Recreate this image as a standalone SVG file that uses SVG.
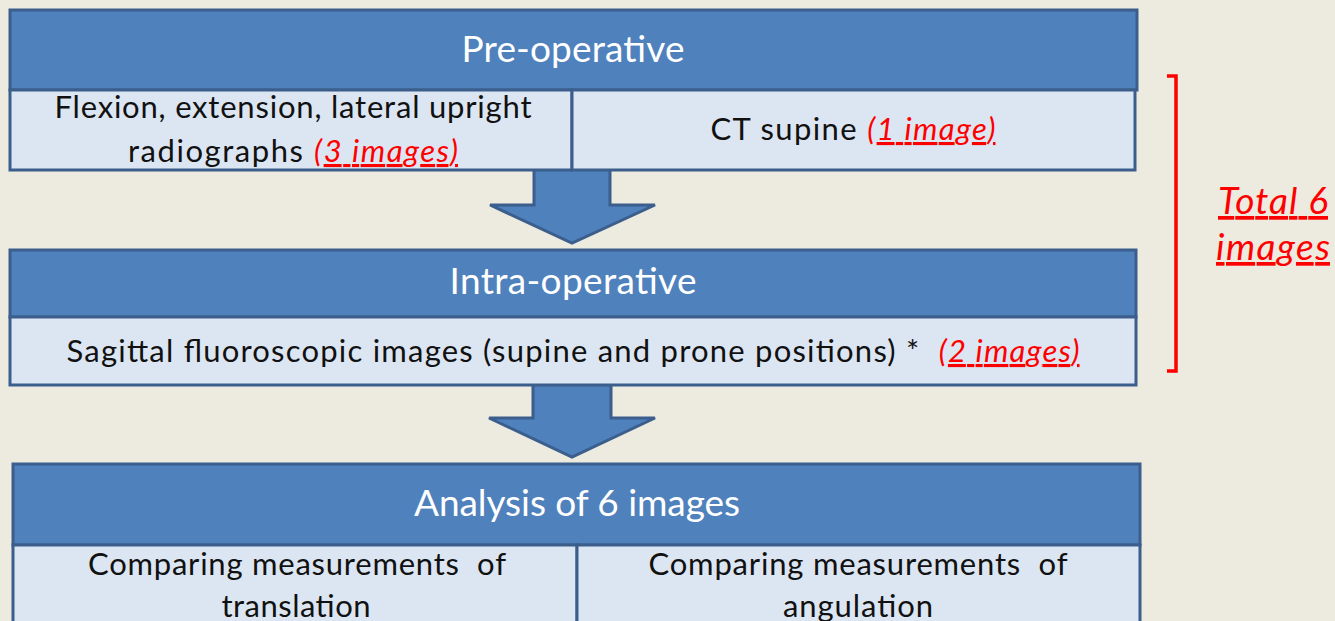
<svg xmlns="http://www.w3.org/2000/svg" width="1335" height="621" viewBox="0 0 1335 621">
<style>
.hdr{fill:#4F81BD;stroke:#3B5E8C;stroke-width:3}
.cell{fill:#DCE6F2;stroke:#3B5E8C;stroke-width:3}
.arrow{fill:#4F81BD;stroke:#3B5E8C;stroke-width:3;stroke-linejoin:miter}
text{font-family:Lato,"Liberation Sans",sans-serif;text-anchor:middle}
.ht{fill:#FFFFFF;font-size:37px}
.bt{fill:#111111;font-size:31px}
.red{fill:#FF0000;font-style:italic;text-decoration:underline}
</style>
<rect width="1335" height="621" fill="#EDEBE0"/>
<g id="connectors">
<path class="arrow" d="M534,168 L610,168 L610,205 L655,205 L572,243 L490,205 L534,205 Z"/>
<path class="arrow" d="M533,383 L611,383 L611,418 L655,418 L572,457 L489,418 L533,418 Z"/>
</g>
<g id="pre-operative">
<rect class="hdr" x="10" y="10" width="1127" height="80"/>
<rect class="cell" x="10" y="90" width="562" height="80"/>
<rect class="cell" x="572" y="90" width="563" height="80"/>
<text class="ht" x="573" y="62" textLength="223">Pre-operative</text>
<text class="bt" x="293" y="118" textLength="477">Flexion, extension, lateral upright</text>
<text class="bt" x="293" y="162" textLength="330">radiographs <tspan class="red">(3 images)</tspan></text>
<text class="bt" x="853" y="140" textLength="285">CT supine <tspan class="red">(1 image)</tspan></text>
</g>
<g id="intra-operative">
<rect class="hdr" x="10" y="250" width="1126" height="67"/>
<rect class="cell" x="10" y="317" width="1126" height="68"/>
<text class="ht" x="573" y="294" textLength="247">Intra-operative</text>
<text class="bt" x="573" y="362" textLength="1013" xml:space="preserve">Sagittal fluoroscopic images (supine and prone positions) *  <tspan class="red">(2 images)</tspan></text>
</g>
<g id="analysis">
<rect class="hdr" x="13" y="464" width="1127" height="81"/>
<rect class="cell" x="13" y="545" width="564" height="110"/>
<rect class="cell" x="577" y="545" width="563" height="110"/>
<text class="ht" x="577" y="516" textLength="326">Analysis of 6 images</text>
<text class="bt" x="297" y="575" textLength="418" xml:space="preserve">Comparing measurements  of</text>
<text class="bt" x="296" y="617" textLength="149">translation</text>
<text class="bt" x="858" y="575" textLength="419" xml:space="preserve">Comparing measurements  of</text>
<text class="bt" x="858" y="617" textLength="150">angulation</text>
</g>
<g id="total">
<path d="M1167,76 L1176,76 L1176,371 L1167,371" fill="none" stroke="#FF0000" stroke-width="3.5"/>
<text class="red" x="1273" y="214" textLength="110" style="font-size:37px">Total 6</text>
<text class="red" x="1273" y="260" textLength="114" style="font-size:37px">images</text>
</g>
</svg>
